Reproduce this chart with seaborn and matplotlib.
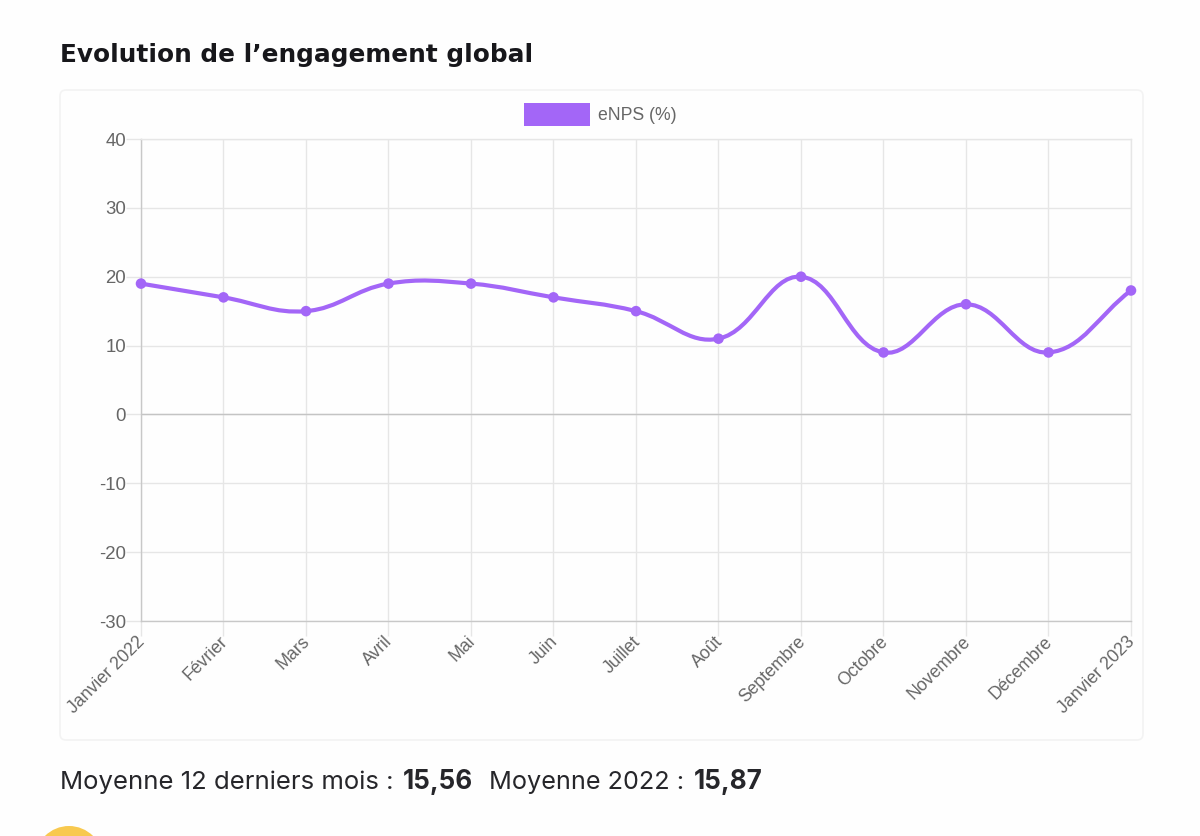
import numpy as np
import pandas as pd
import seaborn as sns
import matplotlib
matplotlib.use("Agg")
import matplotlib.pyplot as plt
from matplotlib.patches import FancyBboxPatch, PathPatch, Patch, Circle
from matplotlib.path import Path
from matplotlib.transforms import ScaledTranslation

months = ["Janvier 2022", "Février", "Mars", "Avril", "Mai", "Juin", "Juillet",
          "Août", "Septembre", "Octobre", "Novembre", "Décembre", "Janvier 2023"]
enps = [19, 17, 15, 19, 19, 17, 15, 11, 20, 9, 16, 9, 18]
y_ticks = [-30, -20, -10, 0, 10, 20, 30, 40]
title = "Evolution de l’engagement global"
series_name = "eNPS (%)"

PURPLE = "#a366f7"
GRID = "#e6e6e6"
W, H = 1200, 836

sns.set_theme(style="white")
plt.rcParams["font.family"] = ["Liberation Sans", "DejaVu Sans"]

fig = plt.figure(figsize=(W / 100, H / 100), dpi=100, facecolor="#fefefe")
bg = fig.add_axes([0, 0, 1, 1], zorder=0)
bg.set_xlim(0, W)
bg.set_ylim(H, 0)
bg.axis("off")
bg.add_patch(FancyBboxPatch((60, 90), 1083, 650, boxstyle="round,pad=0,rounding_size=6",
                            fc="#fefefe", ec="#f3f3f3", lw=1.2))
bg.add_patch(Circle((69, 860), 34, fc="#f8c94f", ec="none"))
bg.text(60, 55, title, family="DejaVu Sans", weight="bold", fontsize=17.8, color="#17171b",
        va="center", ha="left")

BODY = "#26262a"
bg.text(60, 782, "Moyenne 12 derniers mois :", family="Inter", fontsize=18.5,
        color=BODY, va="center", ha="left")
bg.text(403, 782, "15,56", family="Inter", weight="bold", fontsize=18.8,
        color=BODY, va="center", ha="left")
bg.text(489, 782, "Moyenne 2022 :", family="Inter", fontsize=18.2,
        color=BODY, va="center", ha="left")
bg.text(694, 782, "15,87", family="Inter", weight="bold", fontsize=18.8,
        color=BODY, va="center", ha="left")

ax = fig.add_axes([141 / W, 1 - 621 / H, 990 / W, 482 / H], zorder=1)
ax.patch.set_alpha(0)
df = pd.DataFrame({"x": np.arange(len(months)), "enps": enps})

# Chart.js-style bezier (tension 0.4), control points derived from the data values
sx, sy = 990 / (len(months) - 1), 482 / 70
t = 0.4
xs, ys = df["x"].to_numpy(float), df["enps"].to_numpy(float)
pts = np.column_stack([xs, ys])
scale = np.array([sx, sy])
verts = [tuple(pts[0])]
codes = [Path.MOVETO]
def ctrl(i):
    p, c, n = pts[max(i - 1, 0)], pts[i], pts[min(i + 1, len(pts) - 1)]
    d1 = np.linalg.norm((c - p) * scale)
    d2 = np.linalg.norm((n - c) * scale)
    s1 = d1 / (d1 + d2)
    return c - t * s1 * (n - p), c + t * (1 - s1) * (n - p)
for i in range(len(pts) - 1):
    verts += [tuple(ctrl(i)[1]), tuple(ctrl(i + 1)[0]), tuple(pts[i + 1])]
    codes += [Path.CURVE4] * 3

ax.add_patch(PathPatch(Path(verts, codes), fc="none", ec=PURPLE, lw=3.0, zorder=3, clip_on=False))
sns.scatterplot(data=df, x="x", y="enps", ax=ax, color=PURPLE, s=58, edgecolor="none",
                zorder=4, clip_on=False, legend=False)

ax.set_xlim(0, len(months) - 1)
ax.set_ylim(-30, 40)
ax.set_xlabel("")
ax.set_ylabel("")
ax.set_xticks(df["x"])
ax.set_xticklabels(months, rotation=45, ha="right", rotation_mode="anchor")
ax.set_yticks(y_ticks)
ax.set_yticklabels([str(v) for v in y_ticks])
ax.tick_params(axis="both", length=10.8, width=1, color=GRID, labelcolor="#666666",
               left=True, bottom=True)
ax.tick_params(axis="y", labelsize=13.4, pad=0)
ax.tick_params(axis="x", labelsize=12.7, pad=-2.2)
shift = ScaledTranslation(-4.5 / 100, 0, fig.dpi_scale_trans)
for lab in ax.get_xticklabels():
    lab.set_transform(lab.get_transform() + shift)
ax.grid(True, color=GRID, lw=1)
ax.set_axisbelow(True)
for s in ["top", "right"]:
    ax.spines[s].set_color(GRID)
    ax.spines[s].set_linewidth(1)
for s in ["left", "bottom"]:
    ax.spines[s].set_color("#c8c8c8")
    ax.spines[s].set_linewidth(1)
ax.axhline(0, color="#c4c4c4", lw=1, zorder=1)

leg = ax.legend(handles=[Patch(fc=PURPLE, ec="none", label=series_name)],
                loc="center left", bbox_to_anchor=((524 - 141) / 990, (621 - 114.5) / 482),
                frameon=False, fontsize=12.7, handlelength=3.75, handleheight=1.6,
                handletextpad=0.42, borderpad=0, borderaxespad=0)
for txt in leg.get_texts():
    txt.set_color("#666666")

fig.savefig("out.png", dpi=100, facecolor=fig.get_facecolor())
